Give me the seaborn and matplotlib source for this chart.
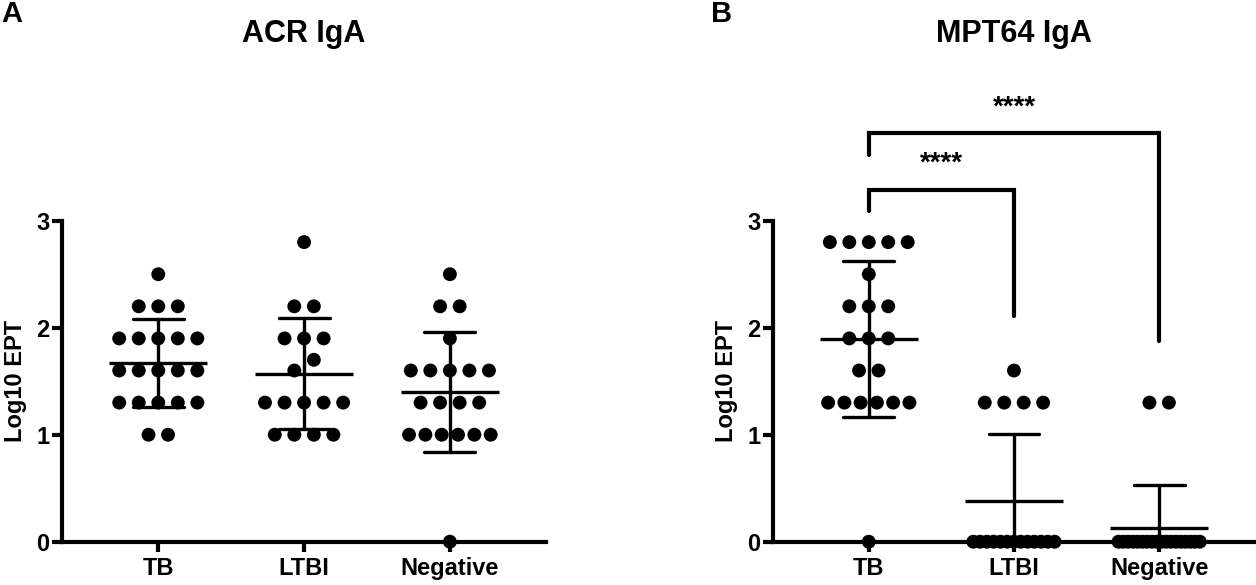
import numpy as np
import pandas as pd
import seaborn as sns
import matplotlib.pyplot as plt

# groups on the x axis
groups = ["TB", "LTBI", "Negative"]

# ACR IgA, log10 end point titres per subject
acr_tb = [2.5, 2.2, 2.2, 2.2, 1.9, 1.9, 1.9, 1.9, 1.9, 1.6, 1.6, 1.6, 1.6, 1.6,
          1.3, 1.3, 1.3, 1.3, 1.3, 1.0, 1.0]
acr_ltbi = [2.8, 2.2, 2.2, 1.9, 1.9, 1.9, 1.7, 1.6, 1.3, 1.3, 1.3, 1.3, 1.3,
            1.0, 1.0, 1.0, 1.0]
acr_neg = [2.5, 2.2, 2.2, 1.9, 1.6, 1.6, 1.6, 1.6, 1.6, 1.3, 1.3, 1.3, 1.3,
           1.0, 1.0, 1.0, 1.0, 1.0, 1.0, 0.0]

# MPT64 IgA
mpt_tb = [2.8, 2.8, 2.8, 2.8, 2.8, 2.5, 2.2, 2.2, 2.2, 1.9, 1.9, 1.9, 1.6, 1.6,
          1.3, 1.3, 1.3, 1.3, 1.3, 1.3, 0.0]
mpt_ltbi = [1.6, 1.3, 1.3, 1.3, 1.3, 0.0, 0.0, 0.0, 0.0, 0.0, 0.0, 0.0, 0.0,
            0.0, 0.0, 0.0, 0.0, 0.0]
mpt_neg = [1.3, 1.3, 0.0, 0.0, 0.0, 0.0, 0.0, 0.0, 0.0, 0.0, 0.0, 0.0, 0.0,
           0.0, 0.0, 0.0, 0.0, 0.0, 0.0, 0.0]

# significance brackets for panel B: (from, to, label)
mpt_sig = [("TB", "LTBI", "****"), ("TB", "Negative", "****")]

STEP = 0.134   # horizontal spacing of dots in a row
MAXW = 0.56    # widest a row may get
MERGE = 0.15   # values closer than this share a row


def spread(values):
    v = np.sort(np.asarray(values, dtype=float))
    offs = np.zeros(len(v))
    start = 0
    for i in range(1, len(v) + 1):
        if i == len(v) or v[i] - v[i - 1] >= MERGE:
            k = i - start
            if k > 1:
                step = min(STEP, MAXW / (k - 1))
                offs[start:i] = (np.arange(k) - (k - 1) / 2) * step
            start = i
    return v, offs


def build(series):
    rows = []
    for code, (g, vals) in enumerate(zip(groups, series)):
        v, o = spread(vals)
        for val, off in zip(v, o):
            rows.append({"group": g, "code": code, "x": code + off, "value": val})
    return pd.DataFrame(rows)


sns.set_style("ticks")
plt.rcParams["font.family"] = ["Liberation Sans", "DejaVu Sans"]
plt.rcParams["font.weight"] = "bold"
plt.rcParams["axes.labelweight"] = "bold"
plt.rcParams["axes.titleweight"] = "bold"
for key in ["text.color", "axes.labelcolor", "xtick.color", "ytick.color",
            "axes.edgecolor"]:
    plt.rcParams[key] = "black"

fig = plt.figure(figsize=(12.56, 5.85), dpi=100)
ax1 = fig.add_axes([0.0494, 0.074, 0.3854, 0.5487])
ax2 = fig.add_axes([0.6154, 0.074, 0.3838, 0.5487])

panels = [(ax1, [acr_tb, acr_ltbi, acr_neg], "ACR IgA"),
          (ax2, [mpt_tb, mpt_ltbi, mpt_neg], "MPT64 IgA")]

for ax, series, title in panels:
    df = build(series)
    sns.scatterplot(data=df, x="x", y="value", color="black", s=100,
                    edgecolor="none", clip_on=False, zorder=3, legend=False, ax=ax)
    sns.pointplot(data=df, x="code", y="value", native_scale=True,
                  errorbar="sd", capsize=0.35, marker="_", markersize=70,
                  markeredgewidth=2.4, linewidth=2.4, linestyle="none",
                  color="black", ax=ax)
    ax.set_ylim(0, 3)
    ax.set_xlim(-0.66, 2.66)
    ax.set_xticks(range(len(groups)), groups)
    ax.set_yticks([0, 1, 2, 3])
    ax.set_xlabel("")
    ax.set_ylabel("Log10 EPT", fontsize=17)
    ax.yaxis.set_label_coords(-0.073, 0.5)
    ax.set_title(title, fontsize=22, y=1.557, va="center")
    sns.despine(ax=ax)
    for s in ["left", "bottom"]:
        ax.spines[s].set_linewidth(3)
    ax.tick_params(width=3, length=7, labelsize=17)
    ax.tick_params(axis="y", pad=2)
    ax.tick_params(axis="x", pad=4)

# brackets over panel B
levels = [3.29, 3.82]
left_legs = [3.09, 3.61]
right_legs = [2.11, 1.88]
for (a, b, lab), top, yl, yr in zip(mpt_sig, levels, left_legs, right_legs):
    x1, x2 = groups.index(a), groups.index(b)
    ax2.plot([x1, x1, x2, x2], [yl, top, top, yr], color="black", lw=3,
             clip_on=False, solid_joinstyle="miter")
    ax2.text((x1 + x2) / 2, top + 0.24, lab, ha="center", va="center",
             fontsize=20, fontweight="bold", clip_on=False)

fig.text(12 / 1256, 1 - 14 / 585, "A", fontsize=21, fontweight="bold",
         ha="center", va="center")
fig.text(722 / 1256, 1 - 14 / 585, "B", fontsize=21, fontweight="bold",
         ha="center", va="center")

fig.savefig("out.png", dpi=100)
